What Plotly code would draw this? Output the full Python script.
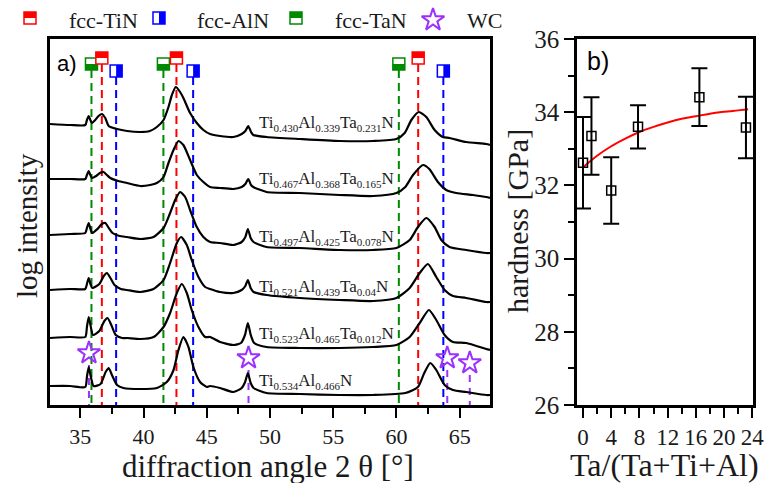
import plotly.graph_objects as go

# ---------------- data: panel a (XRD patterns, log intensity in arbitrary units) ----------------
tt_1 = [32.6,34.2,35.39,35.52,35.66,35.79,35.92,36.18,36.44,36.71,36.97,37.24,37.9,38.7,39.7,40.5,41.05,41.58,41.97,42.24,42.55,42.89,43.15,43.68,44.21,44.73,45.26,46.05,47.1,47.76,48.05,48.28,48.5,48.68,49.73,52.36,55.5,58.15,60.0,60.65,61.18,61.76,62.36,63.02,63.67,64.2,65.52,67.1,67.4]
int_1 = [281,280,280,285,289,285,282,285,289,291,287,279,276,274,273,274,278,285,298,310,318,313,307,292,282,275,271,269,268,271,274,279,273,270,268,266,264,264,266,272,285,293,288,275,268,267,263,261,260]

tt_2 = [32.6,34.2,35.39,35.52,35.66,35.79,35.92,36.25,36.55,36.84,37.1,37.37,38.0,38.69,39.74,40.52,41.05,41.58,41.97,42.37,42.76,43.15,43.68,44.21,44.73,45.26,46.05,47.1,47.76,48.05,48.28,48.5,48.68,49.73,52.36,55.5,58.15,60.0,60.7,61.31,62.1,62.6,63.28,63.94,64.73,66.05,67.1,67.4]
int_2 = [226,226,226,230,234,230,227,229,232,233,230,227,224,222,219,220,222,228,242,255,264,260,245,230,223,218,217,216,218,221,226,220,218,213,212,210,209,212,218,230,240,236,223,215,212,210,208,207]

tt_3 = [32.6,34.2,35.39,35.52,35.66,35.8,35.95,36.35,36.7,36.97,37.25,37.55,38.1,38.69,39.74,40.79,41.58,42.1,42.5,42.89,43.29,43.68,44.21,44.73,45.26,46.05,47.1,47.76,48.05,48.25,48.47,48.7,49.73,52.36,55.5,58.15,60.0,61.05,61.7,62.36,63.02,63.55,64.2,65.52,67.1,67.4]
int_3 = [170,171,172,177,182,176,172,176,181,182,177,172,169,168,166,168,177,192,205,213,208,195,178,168,163,162,160,163,168,176,167,163,158,157,155,155,157,165,178,187,178,165,158,155,152,152]

tt_4 = [32.6,34.2,35.39,35.52,35.66,35.8,35.95,36.5,36.85,37.1,37.38,37.7,38.2,38.69,39.74,40.79,41.58,42.1,42.63,42.97,43.42,43.81,44.34,44.87,45.26,46.05,47.1,47.76,48.05,48.25,48.47,48.7,49.73,52.36,55.5,58.15,60.0,61.05,61.84,62.49,63.15,63.81,64.47,65.52,67.1,67.4]
int_4 = [115,116,116,121,127,121,117,121,129,132,127,120,116,115,113,116,125,142,162,168,160,145,128,118,116,113,112,115,119,125,117,113,110,107,105,104,107,117,132,141,128,115,109,107,103,103]

tt_5 = [32.6,34.2,35.39,35.52,35.66,35.8,36.0,36.5,36.9,37.15,37.45,37.8,38.3,38.69,39.74,40.79,41.58,42.1,42.63,43.02,43.42,43.81,44.34,44.87,45.26,46.05,47.1,47.7,48.02,48.25,48.48,48.75,49.73,52.36,55.5,58.15,60.0,61.05,61.84,62.57,63.15,63.81,64.47,65.52,67.1,67.4]
int_5 = [67,68,68,78,88,80,70,74,84,87,80,70,67,67,66,68,78,92,112,121,112,95,78,68,68,63,60,62,70,82,70,62,58,57,57,58,60,68,82,95,85,70,63,62,56,55]

tt_6 = [32.6,34.2,35.39,35.52,35.66,35.8,36.05,36.6,37.0,37.24,37.5,37.9,38.4,39.74,41.05,41.84,42.37,42.76,43.15,43.55,43.94,44.47,45.0,45.26,46.05,47.1,47.76,48.03,48.25,48.47,48.7,49.73,52.36,55.5,58.15,60.7,61.7,62.2,62.68,63.15,63.81,64.47,65.52,67.1,67.4]
int_6 = [19,19,18,28,38,30,19,21,33,37,30,20,17,16,17,23,35,55,68,58,38,23,18,19,17,13,17,23,32,22,17,12,11,10,10,12,18,32,42,35,20,15,13,10,10]

ti_frac = ["0.430", "0.467", "0.497", "0.521", "0.523", "0.534"]
al_frac = ["0.339", "0.368", "0.425", "0.439", "0.465", "0.466"]
ta_frac = ["0.231", "0.165", "0.078", "0.04", "0.012", ""]
label_level = [282, 226, 168, 118, 71, 24]

tin_peaks = [36.7, 42.6, 61.72]
aln_peaks = [37.83, 43.92, 63.71]
tan_peaks = [35.88, 41.57, 60.19]
wc_peaks = [35.68, 48.3, 64.02, 65.8]
wc_level = [52, 47, 47, 42]

legend_names = ["fcc-TiN", "fcc-AlN", "fcc-TaN", "WC"]

# ---------------- data: panel b (hardness) ----------------
ta_content = [0, 1.2, 4.0, 7.8, 16.5, 23.1]
hardness = [32.62, 33.35, 31.86, 33.60, 34.41, 33.58]
hardness_err = [1.25, 1.06, 0.91, 0.59, 0.79, 0.84]
fit_x = [-0.15, 2, 4, 6, 8, 10, 12, 14, 16, 18, 20, 22, 23.4]
fit_y = [32.47, 32.81, 33.07, 33.28, 33.46, 33.60, 33.72, 33.82, 33.89, 33.96, 34.01, 34.05, 34.08]

# ---------------- styling / geometry ----------------
W, H = 767, 483
A_L, A_R, TOP, BOT = 50, 490, 39, 405
B_L, B_R = 577, 753
XA = [32.6, 67.4]
YA = [0, BOT - TOP]
RED, BLUE, GREEN, PURPLE = "#ff0000", "#0000ff", "#008a00", "#9b30ff"
SERIF = "Liberation Serif, Times New Roman, serif"
SANS = "Liberation Sans, Arial, sans-serif"
TXT = "#1a1a1a"

px_per_deg = (A_R - A_L) / (XA[1] - XA[0])
BOX = 12  # px

fig = go.Figure()
shapes = []


def half_box(xc, yc, w, h, color, side, xref, yref, ydir=1):
    x0, x1 = xc - w / 2, xc + w / 2
    ylo, yhi = yc - ydir * h / 2, yc + ydir * h / 2
    shapes.append(dict(type="rect", xref=xref, yref=yref, x0=x0, x1=x1, y0=ylo, y1=yhi,
                       line=dict(color=color, width=1.5), fillcolor="white", layer="above"))
    if side == "top":
        f = dict(x0=x0, x1=x1, y0=yc, y1=yhi)
    elif side == "bottom":
        f = dict(x0=x0, x1=x1, y0=ylo, y1=yc)
    else:
        f = dict(x0=xc, x1=x1, y0=ylo, y1=yhi)
    shapes.append(dict(type="rect", xref=xref, yref=yref, line=dict(width=0),
                       fillcolor=color, layer="above", **f))


# reference lines with box markers
ref_sets = [(tan_peaks, GREEN, 341, "bottom"), (tin_peaks, RED, 347, "top"), (aln_peaks, BLUE, 334, "right")]
for peaks, col, lvl, side in ref_sets:
    xs, ys = [], []
    for p in peaks:
        xs += [p, p, None]
        ys += [lvl - BOX / 2, 0, None]
        half_box(p, lvl, BOX / px_per_deg, BOX, col, side, "x", "y")
    fig.add_trace(go.Scatter(x=xs, y=ys, mode="lines", xaxis="x", yaxis="y",
                             line=dict(color=col, width=2, dash="8px,5px"), hoverinfo="skip"))

# WC reference
xs, ys = [], []
for p, l in zip(wc_peaks, wc_level):
    xs += [p, p, None]
    ys += [l - 12, 0, None]
fig.add_trace(go.Scatter(x=xs, y=ys, mode="lines", xaxis="x", yaxis="y",
                         line=dict(color=PURPLE, width=2, dash="7px,6px"), hoverinfo="skip"))
fig.add_trace(go.Scatter(x=wc_peaks, y=wc_level, mode="markers", xaxis="x", yaxis="y",
                         marker=dict(symbol="star-open", size=17, color=PURPLE, line=dict(width=2, color=PURPLE))))

# XRD curves
for tt, ii in [(tt_1, int_1), (tt_2, int_2), (tt_3, int_3), (tt_4, int_4), (tt_5, int_5), (tt_6, int_6)]:
    fig.add_trace(go.Scatter(x=tt, y=ii, mode="lines", xaxis="x", yaxis="y",
                             line=dict(color="black", width=2.2, shape="spline", smoothing=0.6)))


def sub(s):
    return f'<sub><span style="font-size:11px">{s}</span></sub>'


annotations = []
for ti, al, ta, lv in zip(ti_frac, al_frac, ta_frac, label_level):
    txt = f"Ti{sub(ti)}Al{sub(al)}"
    if ta:
        txt += f"Ta{sub(ta)}"
    txt += "N"
    annotations.append(dict(x=48.97, y=lv, xref="x", yref="y", text=txt, showarrow=False,
                            xanchor="left", yanchor="middle", font=dict(family=SERIF, size=17, color=TXT)))

# panel b
fig.add_trace(go.Scatter(x=fit_x, y=fit_y, mode="lines", xaxis="x2", yaxis="y2",
                         line=dict(color=RED, width=2, shape="spline")))
fig.add_trace(go.Scatter(x=ta_content, y=hardness, mode="markers", xaxis="x2", yaxis="y2",
                         marker=dict(symbol="square-open", size=9, color="black", line=dict(width=1.5, color="black")),
                         error_y=dict(type="data", array=hardness_err, color="black", thickness=2, width=8)))

# legend (top strip) on a pixel overlay axis
leg_x = [30, 159, 296]
leg_cols = [RED, BLUE, GREEN]
leg_sides = ["top", "right", "top"]
for lx, c, s in zip(leg_x, leg_cols, leg_sides):
    half_box(lx, 18, BOX, BOX, c, s, "x3", "y3", ydir=-1)
fig.add_trace(go.Scatter(x=[433], y=[20], mode="markers", xaxis="x3", yaxis="y3",
                         marker=dict(symbol="star-open", size=17, color=PURPLE, line=dict(width=2, color=PURPLE))))
for tx, name in zip([67, 195, 333, 465], legend_names):
    annotations.append(dict(x=tx / W, y=1 - 21 / H, xref="paper", yref="paper", text=name, showarrow=False,
                            xanchor="left", yanchor="middle", font=dict(family=SERIF, size=22, color=TXT)))

# panel labels and titles
annotations += [
    dict(x=55 / W, y=1 - 63 / H, xref="paper", yref="paper", text="a)", showarrow=False,
         xanchor="left", yanchor="middle", font=dict(family=SANS, size=22, color="black")),
    dict(x=585 / W, y=1 - 61 / H, xref="paper", yref="paper", text="b)", showarrow=False,
         xanchor="left", yanchor="middle", font=dict(family=SANS, size=25, color="black")),
    dict(x=268 / W, y=1 - 466 / H, xref="paper", yref="paper", text="diffraction angle 2 θ [°]", showarrow=False,
         xanchor="center", yanchor="middle", font=dict(family=SERIF, size=31, color=TXT)),
    dict(x=27 / W, y=1 - 226 / H, xref="paper", yref="paper", text="log intensity", showarrow=False, textangle=-90,
         xanchor="center", yanchor="middle", font=dict(family=SERIF, size=29, color=TXT)),
    dict(x=518 / W, y=1 - 221 / H, xref="paper", yref="paper", text="hardness [GPa]", showarrow=False, textangle=-90,
         xanchor="center", yanchor="middle", font=dict(family=SERIF, size=30, color=TXT)),
    dict(x=664 / W, y=1 - 465 / H, xref="paper", yref="paper", text="Ta/(Ta+Ti+Al)", showarrow=False,
         xanchor="center", yanchor="middle", font=dict(family=SERIF, size=32, color=TXT)),
]

frame = dict(showline=True, linewidth=2.5, linecolor="black", mirror=True, showgrid=False, zeroline=False,
             automargin=False)
ydom = [1 - BOT / H, 1 - TOP / H]
fig.update_layout(
    width=W, height=H, margin=dict(l=0, r=0, t=0, b=0),
    paper_bgcolor="white", plot_bgcolor="rgba(0,0,0,0)", showlegend=False,
    xaxis=dict(domain=[A_L / W, A_R / W], range=XA, anchor="y", ticks="outside", ticklen=10, tickwidth=2,
               tickcolor="black", tick0=35, dtick=5,
               minor=dict(dtick=2.5, ticklen=6, tickwidth=2, ticks="outside", tickcolor="black"),
               tickfont=dict(family=SERIF, size=22, color=TXT), **frame),
    yaxis=dict(domain=ydom, range=YA, anchor="x", showticklabels=False, ticks="", **frame),
    xaxis2=dict(domain=[B_L / W, B_R / W], range=[-0.85, 24.1], anchor="y2", ticks="outside", ticklen=10,
                tickwidth=2, tickcolor="black", tick0=0, dtick=4,
                minor=dict(dtick=2, ticklen=6, tickwidth=2, ticks="outside", tickcolor="black"),
                tickfont=dict(family=SERIF, size=23, color=TXT), **frame),
    yaxis2=dict(domain=ydom, range=[26, 36], anchor="x2", ticks="outside", ticklen=10, tickwidth=2,
                tickcolor="black", tick0=26, dtick=2,
                minor=dict(dtick=1, ticklen=6, tickwidth=2, ticks="outside", tickcolor="black"),
                tickfont=dict(family=SERIF, size=25, color=TXT), **frame),
    xaxis3=dict(domain=[0, 1], range=[0, W], anchor="y3", visible=False),
    yaxis3=dict(domain=[0, 1], range=[H, 0], anchor="x3", visible=False),
    shapes=shapes, annotations=annotations,
)

fig.write_html("out.html")
